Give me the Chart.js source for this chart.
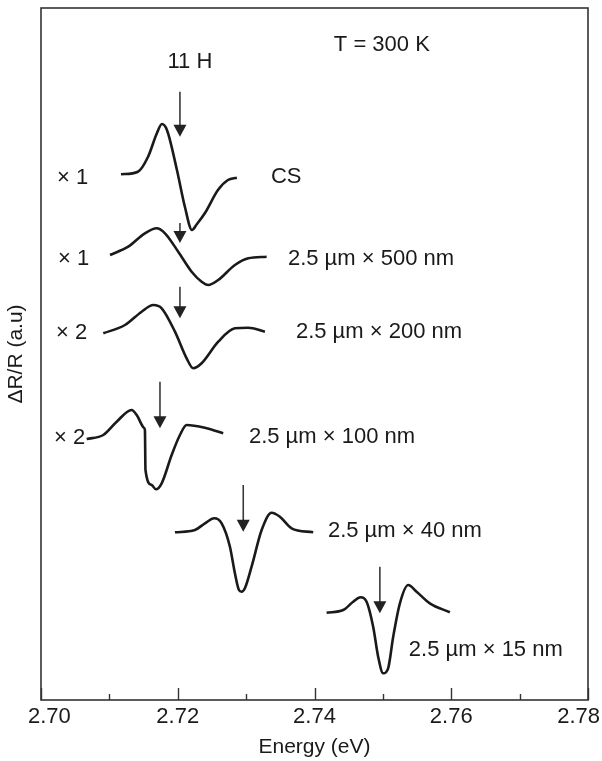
<!DOCTYPE html>
<html>
<head>
<meta charset="utf-8">
<title>Energy (eV)</title>
<script src="https://cdn.jsdelivr.net/npm/chart.js@4.4.1/dist/chart.umd.min.js"></script>
<style>
    html, body { margin: 0; padding: 0; background: #fff; }
    #wrap { width: 602px; height: 761px; position: relative; }
</style>
</head>
<body>
<div id="wrap"><canvas id="spectra"></canvas></div>
<script>
// ----------------------------------------data------------------------------------------------
// energy in eV, dR/R in arbitrary units (each trace already offset)
const csE = [2.71170, 2.71418, 2.71564, 2.71696, 2.71769, 2.71842, 2.71988, 2.72105, 2.72208, 2.72281, 2.72398, 2.72588, 2.72734, 2.72865];
const csR = [52.57, 52.83, 54.30, 56.70, 57.60, 57.00, 53.00, 49.30, 47.00, 47.60, 48.70, 51.00, 52.00, 52.23];

const w500E = [2.71009, 2.71276, 2.71520, 2.71692, 2.71813, 2.72007, 2.72203, 2.72349, 2.72446, 2.72592, 2.72836, 2.73031, 2.73300];
const w500R = [44.50, 45.33, 46.67, 47.17, 46.67, 44.83, 42.83, 41.83, 41.50, 42.00, 43.50, 44.17, 44.33];

const w200E = [2.70911, 2.71228, 2.71472, 2.71642, 2.71765, 2.71959, 2.72130, 2.72227, 2.72349, 2.72592, 2.72836, 2.73031, 2.73275];
const w200R = [36.67, 37.50, 38.83, 39.50, 39.17, 36.83, 34.17, 33.17, 33.67, 35.83, 37.17, 37.23, 36.83];

const w100E = [2.70668, 2.70911, 2.71107, 2.71326, 2.71400, 2.71508, 2.71520, 2.71528, 2.71618, 2.71681, 2.71765, 2.71911, 2.72032, 2.72130, 2.72423, 2.72665];
const w100R = [26.10, 26.50, 27.83, 29.00, 28.50, 27.20, 26.95, 23.00, 21.50, 21.07, 21.67, 24.50, 26.50, 27.50, 27.17, 26.67];

const w40E = [2.71959, 2.72251, 2.72398, 2.72534, 2.72642, 2.72763, 2.72836, 2.72895, 2.72934, 2.72982, 2.73080, 2.73227, 2.73373, 2.73494, 2.73665, 2.73981];
const w40R = [16.77, 17.00, 17.67, 18.17, 17.67, 15.33, 12.67, 11.00, 10.83, 11.17, 13.33, 17.00, 18.73, 18.33, 17.17, 16.77];

const w15E = [2.74177, 2.74420, 2.74566, 2.74674, 2.74762, 2.74858, 2.74931, 2.75004, 2.75077, 2.75151, 2.75249, 2.75370, 2.75493, 2.75687, 2.75980];
const w15R = [8.73, 9.00, 9.83, 10.27, 9.83, 7.33, 4.33, 2.67, 3.17, 6.33, 9.67, 11.50, 10.83, 9.67, 8.77];

// 11 H transition markers: energy, arrow start, arrow tip
const arrowE = [2.72032, 2.72032, 2.72032, 2.71740, 2.72958, 2.74956];
const arrowTop = [60.83, 47.70, 41.33, 31.83, 21.50, 13.33];
const arrowTip = [56.33, 45.70, 38.17, 27.17, 16.83, 8.67];

// axis ticks
const xTicks = [2.70, 2.72, 2.74, 2.76, 2.78];
const xMinorTicks = [2.71, 2.73, 2.75, 2.77];

// text on the plot
const labelText = ["11 H", "T = 300 K", "× 1", "CS", "× 1", "2.5 µm × 500 nm", "× 2", "2.5 µm × 200 nm",
    "× 2", "2.5 µm × 100 nm", "2.5 µm × 40 nm", "2.5 µm × 15 nm"];
const labelE = [2.72178, 2.74985, 2.70234, 2.73363, 2.70249, 2.73611, 2.70219, 2.73728, 2.70190, 2.73041, 2.74196, 2.75380];
const labelR = [63.8, 65.5, 52.2, 52.3, 44.1, 44.1, 36.7, 36.8, 26.2, 26.3, 16.9, 5.0];
const labelAlign = ["center", "center", "left", "left", "left", "left", "left", "left", "left", "left", "left", "left"];

// --------------------------------------helpers------------------------------------------------
const fontFamily = '"Liberation Sans", Arial, Helvetica, sans-serif';
const textFont = "22px " + fontFamily;
const ink = "#1a1a1a";

function toPoints(xs, ys) {
    return xs.map((x, i) => ({ x: x, y: ys[i] }));
}

function trace(xs, ys) {
    return {
        data: toPoints(xs, ys),
        borderColor: ink,
        borderWidth: 2.6,
        pointRadius: 0,
        fill: false,
        cubicInterpolationMode: "monotone"
    };
}

// frame, inward ticks, tick labels, arrows and text
const decorations = {
    id: "decorations",
    afterDatasetsDraw(chart) {
        const ctx = chart.ctx;
        const area = chart.chartArea;
        const xs = chart.scales.x;
        const ys = chart.scales.y;

        ctx.save();

        // box round the plot
        ctx.strokeStyle = "#333";
        ctx.lineWidth = 1.6;
        ctx.strokeRect(area.left, area.top, area.right - area.left, area.bottom - area.top);

        // tick marks pointing into the plot
        ctx.lineWidth = 1.4;
        xTicks.concat(xMinorTicks).forEach(v => {
            let px = Math.round(xs.getPixelForValue(v)) + 0.5;
            let len = xMinorTicks.includes(v) ? 6 : 12;
            ctx.beginPath();
            ctx.moveTo(px, area.bottom);
            ctx.lineTo(px, area.bottom - len);
            ctx.stroke();
        });

        // tick labels, kept inside the canvas at both ends
        ctx.fillStyle = ink;
        ctx.font = textFont;
        ctx.textAlign = "center";
        ctx.textBaseline = "middle";
        xTicks.forEach(v => {
            let txt = v.toFixed(2);
            let half = ctx.measureText(txt).width / 2;
            let px = xs.getPixelForValue(v);
            px = Math.min(Math.max(px, 28 + half), chart.width - 2 - half);
            ctx.fillText(txt, px, area.bottom + 17);
        });

        // arrows
        ctx.strokeStyle = "#3a3a3a";
        ctx.fillStyle = "#222";
        ctx.lineWidth = 1.6;
        arrowE.forEach((e, i) => {
            let px = xs.getPixelForValue(e);
            let top = ys.getPixelForValue(arrowTop[i]);
            let tip = ys.getPixelForValue(arrowTip[i]);
            ctx.beginPath();
            ctx.moveTo(px, top);
            ctx.lineTo(px, tip - 10);
            ctx.stroke();
            ctx.beginPath();
            ctx.moveTo(px - 6.5, tip - 12);
            ctx.lineTo(px + 6.5, tip - 12);
            ctx.lineTo(px, tip);
            ctx.closePath();
            ctx.fill();
        });

        // labels
        ctx.fillStyle = ink;
        labelText.forEach((t, i) => {
            ctx.textAlign = labelAlign[i];
            ctx.fillText(t, xs.getPixelForValue(labelE[i]), ys.getPixelForValue(labelR[i]));
        });

        ctx.restore();
    }
};

// ----------------------------------------chart------------------------------------------------
new Chart("spectra", {
    type: "line",
    data: {
        datasets: [
            trace(csE, csR),
            trace(w500E, w500R),
            trace(w200E, w200R),
            trace(w100E, w100R),
            trace(w40E, w40R),
            trace(w15E, w15R)
        ]
    },
    options: {
        responsive: true,
        maintainAspectRatio: false,
        animation: false,
        events: [],
        layout: { padding: { top: 8, right: 14, bottom: 0, left: 0 } },
        plugins: {
            legend: { display: false },
            tooltip: { enabled: false }
        },
        scales: {
            x: {
                type: "linear",
                min: 2.70,
                max: 2.78,
                afterBuildTicks: scale => {
                    scale.ticks = xTicks.map(v => ({ value: v }));
                },
                afterFit: scale => {
                    scale.height = 61;
                    scale.paddingLeft = 0;
                    scale.paddingRight = 0;
                },
                ticks: { display: false },
                grid: { display: false, drawTicks: false },
                border: { display: false },
                title: {
                    display: true,
                    text: "Energy (eV)",
                    color: ink,
                    font: { family: fontFamily, size: 21 },
                    padding: { top: 0, bottom: 1 }
                }
            },
            y: {
                min: 0,
                max: 69.2,
                afterFit: scale => {
                    scale.width = 41;
                },
                ticks: { display: false },
                grid: { display: false, drawTicks: false },
                border: { display: false },
                title: {
                    display: true,
                    text: "ΔR/R (a.u)",
                    color: ink,
                    font: { family: fontFamily, size: 21 },
                    padding: { top: 4, bottom: 0 }
                }
            }
        }
    },
    plugins: [decorations]
});
</script>
</body>
</html>
